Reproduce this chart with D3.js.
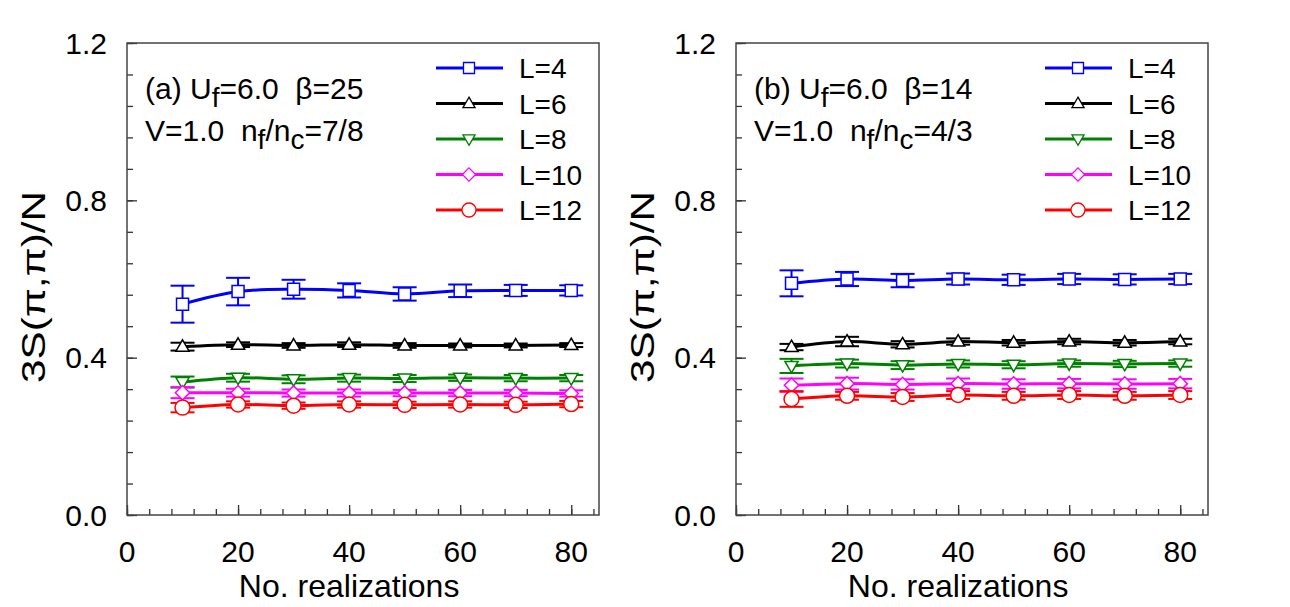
<!DOCTYPE html>
<html>
<head>
<meta charset="utf-8">
<script src="https://cdn.jsdelivr.net/npm/d3@7"></script>
<style>
  body { margin: 0; background: #fff; }
  text { font-family: "Liberation Sans", Arial, sans-serif; fill: #000; white-space: pre; }
</style>
</head>
<body>
<svg id="chart" width="1290" height="607"></svg>
<script>
// data
var realizations = [10, 20, 30, 40, 50, 60, 70, 80];
var sizeLabels = ['L=4', 'L=6', 'L=8', 'L=10', 'L=12'];
var yTicks = [0.0, 0.4, 0.8, 1.2];
var xTicks = [0, 20, 40, 60, 80];

// panel (a)
var aL4  = [0.536, 0.568, 0.574, 0.571, 0.562, 0.570, 0.571, 0.571];
var aL4e = [0.047, 0.035, 0.024, 0.018, 0.017, 0.016, 0.014, 0.013];
var aL6  = [0.428, 0.433, 0.431, 0.433, 0.431, 0.431, 0.431, 0.432];
var aL6e = [0.010, 0.006, 0.006, 0.006, 0.006, 0.005, 0.005, 0.005];
var aL8  = [0.338, 0.349, 0.345, 0.348, 0.347, 0.349, 0.348, 0.348];
var aL8e = [0.014, 0.010, 0.010, 0.009, 0.009, 0.008, 0.008, 0.008];
var aL10  = [0.311, 0.311, 0.310, 0.310, 0.310, 0.310, 0.310, 0.309];
var aL10e = [0.014, 0.010, 0.009, 0.009, 0.008, 0.008, 0.008, 0.008];
var aL12  = [0.273, 0.281, 0.278, 0.281, 0.280, 0.281, 0.280, 0.282];
var aL12e = [0.012, 0.008, 0.008, 0.008, 0.008, 0.008, 0.008, 0.008];

// panel (b)
var bL4  = [0.589, 0.600, 0.596, 0.600, 0.598, 0.600, 0.599, 0.600];
var bL4e = [0.033, 0.018, 0.017, 0.014, 0.013, 0.013, 0.013, 0.013];
var bL6  = [0.427, 0.441, 0.434, 0.441, 0.438, 0.441, 0.438, 0.441];
var bL6e = [0.008, 0.012, 0.008, 0.008, 0.007, 0.007, 0.007, 0.007];
var bL8  = [0.379, 0.385, 0.381, 0.384, 0.382, 0.385, 0.384, 0.385];
var bL8e = [0.018, 0.010, 0.010, 0.009, 0.009, 0.008, 0.008, 0.008];
var bL10  = [0.330, 0.334, 0.332, 0.334, 0.333, 0.334, 0.333, 0.334];
var bL10e = [0.017, 0.015, 0.013, 0.013, 0.012, 0.012, 0.012, 0.012];
var bL12  = [0.295, 0.303, 0.300, 0.305, 0.303, 0.305, 0.303, 0.305];
var bL12e = [0.020, 0.010, 0.010, 0.010, 0.010, 0.010, 0.010, 0.010];

// styles
var colors = ['#0000ff', '#000000', '#008000', '#ff00ff', '#ff0000'];
var symbols = ['square', 'up', 'down', 'diamond', 'circle'];

var svg = d3.select('#chart');
var plotW = 472, plotH = 472, plotTop = 43;

function markerPath(type, r) {
  if (type == 'square') return 'M' + (-r) + ',' + (-r) + 'h' + 2*r + 'v' + 2*r + 'h' + (-2*r) + 'Z';
  if (type == 'up') return 'M0,' + (-r*1.15) + 'L' + r*1.1 + ',' + r*0.75 + 'L' + (-r*1.1) + ',' + r*0.75 + 'Z';
  if (type == 'down') return 'M0,' + r*1.15 + 'L' + r*1.1 + ',' + (-r*0.75) + 'L' + (-r*1.1) + ',' + (-r*0.75) + 'Z';
  if (type == 'diamond') return 'M0,' + (-r*1.2) + 'L' + r*1.2 + ',0L0,' + r*1.2 + 'L' + (-r*1.2) + ',0Z';
  return 'M' + (-r) + ',0a' + r + ',' + r + ' 0 1,0 ' + 2*r + ',0a' + r + ',' + r + ' 0 1,0 ' + (-2*r) + ',0Z';
}

function styleTicks(s) {
  s.select('.domain').remove();
  s.selectAll('line').attr('stroke', '#333').attr('stroke-width', 1.3);
}

function drawPanel(left, means, errs, tag, beta, ratio) {
  var g = svg.append('g').attr('transform', 'translate(' + left + ',' + plotTop + ')');
  var x = d3.scaleLinear().domain([0, 85]).range([0, plotW]);
  var y = d3.scaleLinear().domain([0, 1.2]).range([plotH, 0]);

  // minor + major ticks, inside
  var yMinor = d3.range(0, 1.2001, 0.08);
  var xMinor = d3.range(0, 85, 4);
  g.append('g').call(d3.axisRight(y).tickValues(yMinor).tickSize(6).tickFormat('')).call(styleTicks);
  g.append('g').call(d3.axisRight(y).tickValues(yTicks).tickSize(10).tickFormat('')).call(styleTicks);
  g.append('g').attr('transform', 'translate(0,' + plotH + ')')
    .call(d3.axisTop(x).tickValues(xMinor).tickSize(6).tickFormat('')).call(styleTicks);
  g.append('g').attr('transform', 'translate(0,' + plotH + ')')
    .call(d3.axisTop(x).tickValues(xTicks).tickSize(10).tickFormat('')).call(styleTicks);

  // frame
  g.append('rect').attr('width', plotW).attr('height', plotH)
    .attr('fill', 'none').attr('stroke', '#444').attr('stroke-width', 1.5);

  // tick labels
  g.selectAll('.ylab').data(yTicks).enter().append('text')
    .attr('x', -20).attr('y', function(d) { return y(d); })
    .attr('dy', '0.36em').attr('text-anchor', 'end')
    .style('font-size', '30px').text(function(d) { return d.toFixed(1); });
  g.selectAll('.xlab').data(xTicks).enter().append('text')
    .attr('x', function(d) { return x(d); }).attr('y', plotH + 47)
    .attr('text-anchor', 'middle')
    .style('font-size', '30px').text(function(d) { return d; });

  // axis titles
  g.append('text')
    .attr('transform', 'translate(-94,' + (plotH / 2 + 8) + ') rotate(-90)')
    .attr('dy', '0.35em').attr('text-anchor', 'middle')
    .attr('textLength', 192).attr('lengthAdjust', 'spacingAndGlyphs')
    .style('font-size', '34px').text('3S(\u03c0,\u03c0)/N');
  g.append('text')
    .attr('x', x(40)).attr('y', plotH + 82).attr('text-anchor', 'middle')
    .style('font-size', '32px').text('No. realizations');

  // series
  var line = d3.line()
    .x(function(d) { return x(d.n); })
    .y(function(d) { return y(d.v); })
    .curve(d3.curveCatmullRom.alpha(0.5));

  means.forEach(function(vals, i) {
    var pts = realizations.map(function(n, j) { return {n: n, v: vals[j], e: errs[i][j]}; });
    var sg = g.append('g');
    sg.append('path').datum(pts).attr('d', line)
      .attr('fill', 'none').attr('stroke', colors[i]).attr('stroke-width', 3);
    var eb = sg.selectAll('.err').data(pts).enter().append('g');
    eb.append('line')
      .attr('x1', function(d) { return x(d.n); }).attr('x2', function(d) { return x(d.n); })
      .attr('y1', function(d) { return y(d.v - d.e); }).attr('y2', function(d) { return y(d.v + d.e); })
      .attr('stroke', colors[i]).attr('stroke-width', 2);
    [-1, 1].forEach(function(sgn) {
      eb.append('line')
        .attr('x1', function(d) { return x(d.n) - 12; }).attr('x2', function(d) { return x(d.n) + 12; })
        .attr('y1', function(d) { return y(d.v + sgn * d.e); }).attr('y2', function(d) { return y(d.v + sgn * d.e); })
        .attr('stroke', colors[i]).attr('stroke-width', 2);
    });
    var r = symbols[i] == 'circle' ? 7.5 : 6;
    sg.selectAll('.mk').data(pts).enter().append('path')
      .attr('transform', function(d) { return 'translate(' + x(d.n) + ',' + y(d.v) + ')'; })
      .attr('d', markerPath(symbols[i], r))
      .attr('fill', '#fff').attr('stroke', colors[i]).attr('stroke-width', 1.5);
  });

  // legend
  var lg = g.append('g').attr('transform', 'translate(' + (plotW - 163) + ',25)');
  sizeLabels.forEach(function(lab, i) {
    var row = lg.append('g').attr('transform', 'translate(0,' + (i * 35.5) + ')');
    row.append('line').attr('x1', 0).attr('x2', 67).attr('y1', 0).attr('y2', 0)
      .attr('stroke', colors[i]).attr('stroke-width', 3);
    row.append('path').attr('transform', 'translate(33,0)')
      .attr('d', markerPath(symbols[i], symbols[i] == 'circle' ? 7 : 5.5))
      .attr('fill', '#fff').attr('stroke', colors[i]).attr('stroke-width', 1.3);
    row.append('text').attr('x', 83).attr('y', 0).attr('dy', '0.36em')
      .style('font-size', '28px').text(lab);
  });

  // annotation
  var t1 = g.append('text').attr('x', 18).attr('y', 56).style('font-size', '30px');
  t1.append('tspan').text(tag + ' U');
  t1.append('tspan').attr('dy', 8).style('font-size', '28px').text('f');
  t1.append('tspan').attr('dy', -8).text('=6.0  \u03b2=' + beta);
  var t2 = g.append('text').attr('x', 18).attr('y', 98).style('font-size', '30px');
  t2.append('tspan').text('V=1.0  n');
  t2.append('tspan').attr('dy', 8).style('font-size', '28px').text('f');
  t2.append('tspan').attr('dy', -8).text('/n');
  t2.append('tspan').attr('dy', 8).style('font-size', '28px').text('c');
  t2.append('tspan').attr('dy', -8).text('=' + ratio);
}

drawPanel(127, [aL4, aL6, aL8, aL10, aL12], [aL4e, aL6e, aL8e, aL10e, aL12e], '(a)', 25, '7/8');
drawPanel(736, [bL4, bL6, bL8, bL10, bL12], [bL4e, bL6e, bL8e, bL10e, bL12e], '(b)', 14, '4/3');
</script>
</body>
</html>
